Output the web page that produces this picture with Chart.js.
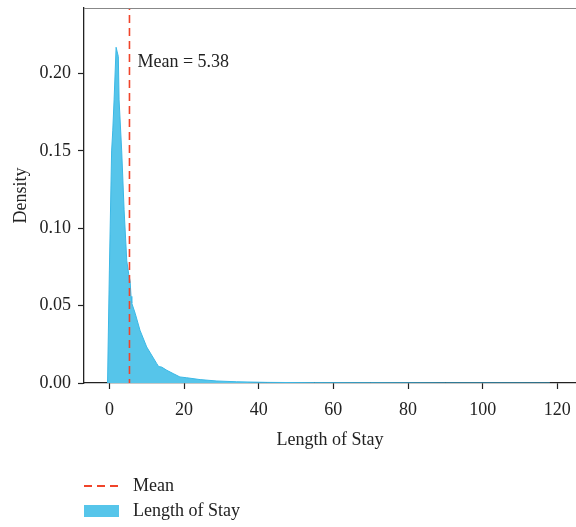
<!DOCTYPE html>
<html>
<head>
<meta charset="utf-8">
<script src="https://cdn.jsdelivr.net/npm/chart.js@4.4.1/dist/chart.umd.min.js"></script>
<style>
  html, body { margin: 0; padding: 0; background: #fff; }
  #wrap { position: relative; width: 576px; height: 527px; }
  #chart { position: absolute; left: 0; top: 0; }
  .legend-item { position: absolute; left: 84px; font: 18px "Liberation Serif", serif; color: #222; }
  .legend-item span { position: absolute; left: 49px; top: -11px; white-space: nowrap; }
  .swatch-line { position: absolute; left: 0; width: 34px; height: 2px;
    background: repeating-linear-gradient(to right, #f0442a 0 8px, transparent 8px 13px); }
  .swatch-rect { position: absolute; left: 0; top: -6px; width: 35px; height: 12px; background: #56c5ea; }
</style>
</head>
<body>
<div id="wrap">
  <canvas id="chart" width="576" height="527"></canvas>
  <div class="legend-item" style="top:486px;"><div class="swatch-line" style="top:-1px;"></div><span>Mean</span></div>
  <div class="legend-item" style="top:511px;"><div class="swatch-rect"></div><span>Length of Stay</span></div>
</div>
<script>
// ===== Data =====
const losValues = [-0.5, 0.0, 0.6, 0.9, 1.26, 1.8, 2.1, 2.4, 2.6, 3.3, 3.94, 4.66, 5.2, 5.55, 5.8, 6.0, 6.9, 8.2, 10.0, 12.7, 13.2, 14.0, 15.4, 17.1, 18.9, 20.7, 24.3, 28.8, 34.1, 42.2, 55, 70, 90, 110, 118];
const densityValues = [0, 0.073, 0.15, 0.163, 0.183, 0.217, 0.214, 0.211, 0.183, 0.150, 0.112, 0.079, 0.070, 0.066, 0.056, 0.0516, 0.0451, 0.0341, 0.0233, 0.0125, 0.0106, 0.0103, 0.0082, 0.0061, 0.0039, 0.0034, 0.0022, 0.0013, 0.0008, 0.0004, 0.0002, 0.00012, 0.00006, 0.00003, 0];
const meanValue = 5.38;
const xTicks = [0, 20, 40, 60, 80, 100, 120];
const yTicks = [0, 0.05, 0.10, 0.15, 0.20];
const xRange = [-6.8, 125.0];
const yRange = [0, 0.2424];

const FONT = { family: '"Liberation Serif", serif', size: 18 };
const INK = '#222';

// mean label + faint top spine
const extras = {
    id: 'extras',
    afterDatasetsDraw(chart) {
        const { ctx, chartArea, scales } = chart;
        ctx.save();
        ctx.strokeStyle = '#888';
        ctx.lineWidth = 1;
        ctx.beginPath();
        ctx.moveTo(chartArea.left, chartArea.top + 0.5);
        ctx.lineTo(chartArea.right, chartArea.top + 0.5);
        ctx.stroke();

        ctx.fillStyle = INK;
        ctx.font = `${FONT.size}px ${FONT.family}`;
        ctx.textAlign = 'left';
        ctx.textBaseline = 'middle';
        const x = scales.x.getPixelForValue(meanValue) + 8;
        const y = scales.y.getPixelForValue(0.2072);
        ctx.fillText(`Mean = ${meanValue.toFixed(2)}`, x, y);
        ctx.restore();
    }
};

new Chart(document.getElementById('chart'), {
    type: 'line',
    data: {
        datasets: [
            {
                label: 'Length of Stay',
                data: losValues.map((v, i) => ({ x: v, y: densityValues[i] })),
                borderColor: '#3bb8e6',
                backgroundColor: '#56c5ea',
                borderWidth: 1,
                fill: 'origin',
                tension: 0,
                pointRadius: 0,
                order: 2
            },
            {
                label: 'Mean',
                data: [{ x: meanValue, y: 0 }, { x: meanValue, y: yRange[1] }],
                borderColor: '#f0442a',
                borderWidth: 1.6,
                borderDash: [8, 5],
                borderDashOffset: 4,
                fill: false,
                pointRadius: 0,
                order: 1
            }
        ]
    },
    options: {
        responsive: false,
        animation: false,
        layout: { padding: { top: 8, right: 0, left: 0, bottom: 67 } },
        plugins: { legend: { display: false }, tooltip: { enabled: false } },
        scales: {
            x: {
                type: 'linear',
                min: xRange[0],
                max: xRange[1],
                afterBuildTicks: s => { s.ticks = xTicks.map(v => ({ value: v })); },
                afterFit: s => { s.height = 77; s.paddingLeft = 0; s.paddingRight = 0; },
                grid: { drawOnChartArea: false, drawTicks: true, tickLength: 6, tickWidth: 1.2, color: INK },
                border: { display: true, color: INK, width: 1.3 },
                ticks: { color: INK, font: FONT, padding: 10, maxRotation: 0 },
                title: { display: true, text: 'Length of Stay', color: INK, font: FONT, padding: { top: 4, bottom: 9 } }
            },
            y: {
                min: yRange[0],
                max: yRange[1],
                afterBuildTicks: s => { s.ticks = yTicks.map(v => ({ value: v })); },
                afterFit: s => { s.width = 84; s.paddingTop = 0; s.paddingBottom = 0; },
                grid: { drawOnChartArea: false, drawTicks: true, tickLength: 6, tickWidth: 1.2, color: INK },
                border: { display: true, color: INK, width: 1.3 },
                ticks: { color: INK, font: FONT, padding: 7, callback: v => v.toFixed(2) },
                title: { display: true, text: 'Density', color: INK, font: FONT, padding: { top: 10, bottom: 4 } }
            }
        }
    },
    plugins: [extras]
});
</script>
</body>
</html>
